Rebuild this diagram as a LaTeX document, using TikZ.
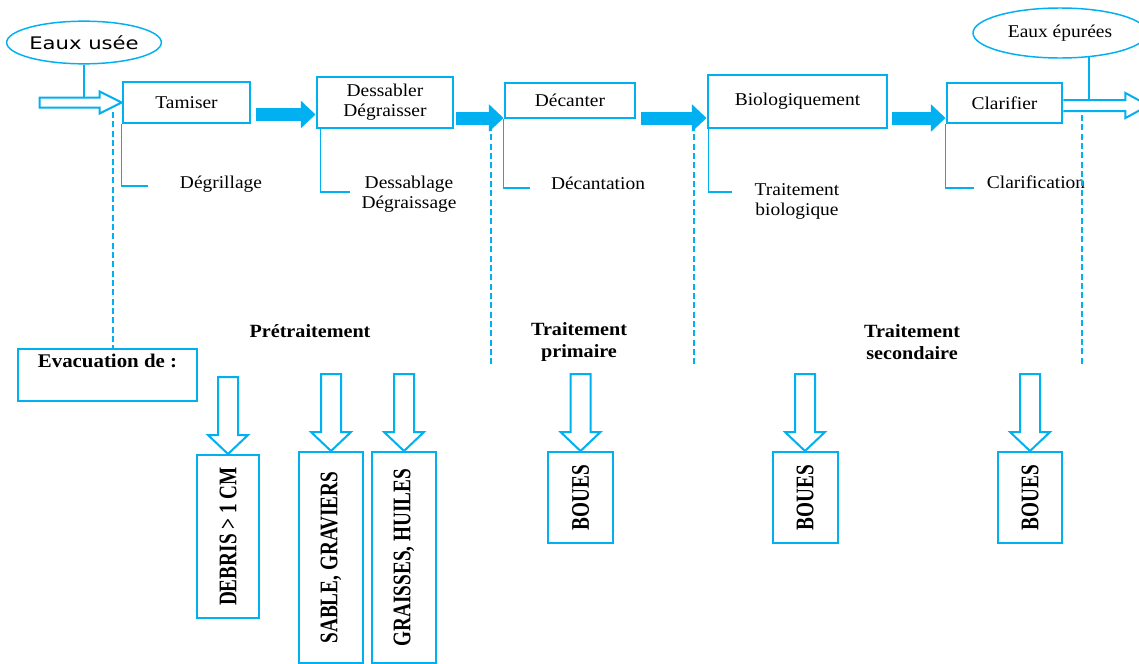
\documentclass[tikz,border=0pt]{standalone}
\usepackage{fontspec}
\setmainfont{Liberation Serif}[FakeStretch=1.08]
\newfontfamily\sansfam{DejaVu Sans}[FakeStretch=1.22]
\newfontfamily\narrowfam{Liberation Serif}[FakeStretch=0.76]
\usepackage{tikz}
\usetikzlibrary{shapes.geometric,arrows.meta,positioning,calc}
\definecolor{bleu}{HTML}{00B0F0}
\tikzset{
procbox/.style = {draw=bleu, line width=2.2pt, fill=white, rectangle, inner sep=0pt, align=center, font=\fontsize{13.5}{15}\selectfont},
evbox/.style   = {draw=bleu, line width=1.5pt, rectangle, inner sep=0pt},
outbox/.style  = {draw=bleu, line width=1.5pt, rectangle, inner sep=0pt, font=\narrowfam\bfseries\fontsize{19}{20}\selectfont},
cloud/.style   = {draw=bleu, line width=1.1pt, ellipse, inner sep=0pt},
flow/.style    = {draw=bleu, line width=9.75pt, -{Triangle[length=11pt,width=20pt]}},
hollow/.style  = {draw=bleu, line width=1.5pt, fill=white, line join=miter},
brack/.style   = {draw=bleu, line width=1pt},
sep/.style     = {draw=bleu, line width=1pt, dash pattern=on 4.5pt off 2.5pt},
lbl/.style     = {inner sep=0pt, align=center, font=\fontsize{13.5}{15}\selectfont},
phase/.style   = {inner sep=0pt, align=center, font=\bfseries\fontsize{14}{16.5}\selectfont}
}

\begin{document}
\begin{tikzpicture}[x=0.75pt, y=-0.75pt]
  \fill [white] (0,0) rectangle (1139,664);
  \useasboundingbox (0,0) rectangle (1139,664);

  % entree / sortie
  \node [cloud, minimum width=108pt, minimum height=32pt, font=\sansfam\fontsize{13}{15}\selectfont] (entree) at (84,42.5) {Eaux usée};
  \node [cloud, minimum width=130.5pt, minimum height=37.5pt, font=\fontsize{13.5}{15}\selectfont] (sortie) at (1060,33) {Eaux épurées};

  % etapes
  \node [procbox, minimum width=95.25pt, minimum height=30.75pt]  (tam) at (186.5,102.5) {Tamiser};
  \node [procbox, minimum width=102pt, minimum height=38.25pt]    (des) at (385,102.5)   {Dessabler\\Dégraisser};
  \node [procbox, minimum width=97.5pt, minimum height=26.25pt]   (dec) at (570,100.5)   {Décanter};
  \node [procbox, minimum width=134.25pt, minimum height=39.75pt] (bio) at (797.5,101.5) {Biologiquement};
  \node [procbox, minimum width=86.25pt, minimum height=30pt]     (cla) at (1004.5,103)  {Clarifier};

  \node [lbl] (degr) at (221,184) {Dégrillage};
  \node [lbl] (dess) at (409,194) {Dessablage\\Dégraissage};
  \node [lbl] (deca) at (598,183) {Décantation};
  \node [lbl] (tbio) at (797,201) {Traitement\\biologique};
  \node [lbl] (clar) at (1036,182) {Clarification};

  \node [phase] (pre)  at (310,331) {Prétraitement};
  \node [phase] (prim) at (579,342) {Traitement\\primaire};
  \node [phase] (sec)  at (912,342) {Traitement\\secondaire};

  \node [evbox, minimum width=134.25pt, minimum height=39pt,
         label={[phase, font=\bfseries\fontsize{14.5}{16}\selectfont, anchor=north, yshift=-4.5pt]north:Evacuation de :}] (evac) at (107.5,375) {};

  % residus
  \node [outbox, minimum width=46.5pt, minimum height=122.25pt] (debris)   at (228,536.5)   {\rotatebox{90}{DEBRIS > 1 CM}};
  \node [outbox, minimum width=48pt, minimum height=158.25pt]   (sable)    at (331,557.5)   {\rotatebox{90}{SABLE, GRAVIERS}};
  \node [outbox, minimum width=48pt, minimum height=158.25pt]   (graisses) at (404,557.5)   {\rotatebox{90}{GRAISSES, HUILES}};
  \node [outbox, minimum width=48.75pt, minimum height=68.25pt] (boues1)   at (580.5,497.5) {\rotatebox{90}{BOUES}};
  \node [outbox, minimum width=48.75pt, minimum height=68.25pt] (boues2)   at (805,497.5)   {\rotatebox{90}{BOUES}};
  \node [outbox, minimum width=48pt, minimum height=68.25pt]    (boues3)   at (1030,497.5)  {\rotatebox{90}{BOUES}};

  \coordinate (b1) at (148,186);
  \coordinate (b2) at (350,192);
  \coordinate (b3) at (530,188);
  \coordinate (b4) at (732,192);
  \coordinate (b5) at (974,188);

  \draw [brack] (tam.south west) |- (b1);
  \draw [brack] ($(des.south west)+(5,0)$) |- (b2);
  \draw [brack] (dec.south west) |- (b3);
  \draw [brack] ($(bio.south west)+(2,0)$) |- (b4);
  \draw [brack] (cla.south west) |- (b5);

  % separations
  \draw [sep] (113,112) -- (113,349);
  \foreach \x/\t in {491/125, 694/125, 1082/115}
    \draw [sep] (\x,\t) -- (\x,365);

  % fleches
  \draw [brack] (entree.south) -- ($(entree.south |- tam.west)+(0,-4)$);
  \draw [brack] ($(sortie.south)+(29,-1.5)$) -- ++(0,44);
  \draw [hollow] ($(tam.west)+(-82,-5)$) -- ($(tam.west)+(-22,-5)$) -- ($(tam.west)+(-22,-11)$) -- (tam.west)
                 -- ($(tam.west)+(-22,11)$) -- ($(tam.west)+(-22,5)$) -- ($(tam.west)+(-82,5)$) -- cycle;
  \draw [hollow] ($(cla.east)+(0,-3)$) -- ($(cla.east)+(62,-3)$) -- ($(cla.east)+(62,-10)$) -- ($(cla.east)+(85,2.5)$)
                 -- ($(cla.east)+(62,15)$) -- ($(cla.east)+(62,8)$) -- ($(cla.east)+(0,8)$);

  \draw [flow] ($(tam.east)+(5,12)$)   -- ($(des.west)+(0,12)$);
  \draw [flow] ($(des.east)+(2,15.5)$) -- ($(dec.west)+(0,17.5)$);
  \draw [flow] ($(dec.east)+(5,17.5)$) -- ($(bio.west)+(0,16.5)$);
  \draw [flow] ($(bio.east)+(4,16.5)$) -- ($(cla.west)+(0,15)$);

  \foreach \n in {debris, sable, graisses, boues1, boues2, boues3}
    \draw [hollow] ($(\n.north)+(-10,-77)$) -- ($(\n.north)+(10,-77)$) -- ($(\n.north)+(10,-19)$) -- ($(\n.north)+(20,-19)$)
                   -- (\n.north) -- ($(\n.north)+(-20,-19)$) -- ($(\n.north)+(-10,-19)$) -- cycle;
\end{tikzpicture}
\end{document}
